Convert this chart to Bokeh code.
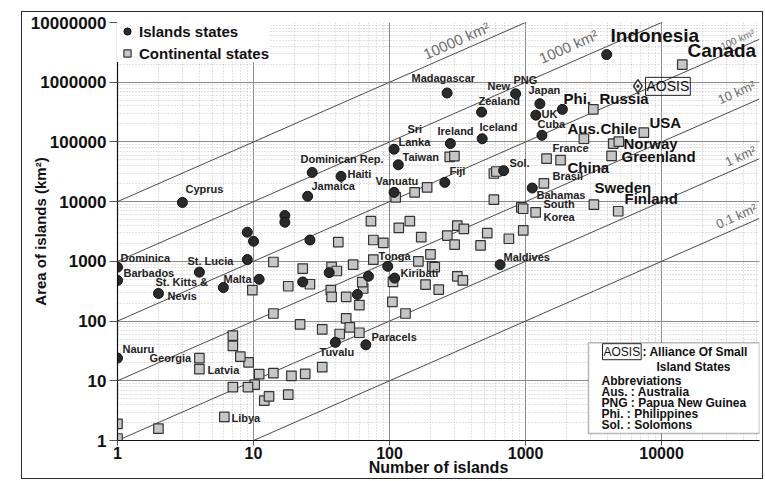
import math
from bokeh.plotting import figure
from bokeh.models import (Range1d, FixedTicker, CustomJSTickFormatter, Label,
                          BoxAnnotation, Legend, LegendItem, ColumnDataSource)
from bokeh.core.properties import value
from bokeh.embed import file_html
from bokeh.resources import INLINE

# ---------------- data ----------------
island_n = [3950, 265, 845, 475, 1275, 1190, 1865, 1320, 480, 280, 108, 116, 690, 255,
            108, 1120, 27, 44, 25, 3, 17, 17, 9, 10, 26, 9, 1, 1, 4, 2, 6, 11, 1, 97,
            109, 70, 36, 23, 58, 40, 67, 650]
island_area = [2900000, 660000, 640000, 316000, 436000, 281000, 351000, 129000, 113000,
               94000, 75500, 41400, 33000, 21000, 14300, 16900, 30800, 26500, 12300, 9700,
               5860, 4520, 3080, 2170, 2280, 1070, 800, 480, 660, 290, 364, 500, 24, 826,
               525, 563, 647, 452, 279, 44, 40, 880]

cont_n = [14200, 3150, 2685, 7410, 4415, 4850, 4290, 1427, 1808, 1364, 3180, 4800, 930,
          960, 1186, 277, 300, 585, 610, 585, 111, 153, 189, 73, 117, 141, 171, 266, 315,
          352, 301, 467, 523, 754, 962, 42, 76, 90, 14, 23, 37.5, 41, 54, 76, 163, 200,
          206, 215, 315, 346, 184, 230, 106, 105, 131, 18, 26, 9.8, 37, 37.5, 48, 64, 63,
          60, 14, 22, 32, 48, 51, 60, 43, 32, 24, 19, 14, 11, 18, 12, 13, 10.2, 9.1, 7.05,
          6.1, 9.2, 8, 7.05, 7.05, 4, 4, 1, 1, 2]
cont_area = [1970000, 351000, 113000, 143000, 93800, 101000, 58400, 52500, 49500, 20200,
             8900, 6900, 8040, 7600, 6630, 56200, 58000, 29600, 32000, 10800, 11800, 14300,
             17300, 4700, 3650, 4700, 2540, 2700, 3980, 3500, 1900, 1850, 2960, 2390, 3290,
             2100, 2280, 2045, 976, 756, 804, 690, 881, 1070, 1000, 1310, 826, 800, 562,
             482, 408, 337, 452, 210, 134, 383, 414, 329, 329, 254, 254, 351, 450, 185,
             134, 88, 72.7, 111, 78.5, 63.8, 60.7, 16.9, 13.1, 12.1, 13.4, 12.9, 5.85,
             4.64, 5.48, 8.6, 7.85, 7.85, 2.48, 20.4, 25.4, 56.9, 38.3, 23.9, 15.7, 1.9,
             1.08, 1.58]

aosis_n = [6700]
aosis_area = [860000]

line_areas = [10000, 1000, 100, 10, 1, 0.1]
line_labels = ["10000 km²", "1000 km²", "100 km²", "10 km²", "1 km²", "0.1 km²"]

y_ticks = [1, 10, 100, 1000, 10000, 100000, 1000000, 10000000]
x_ticks = [1, 10, 100, 1000, 10000]

# ---------------- layout helpers (annotation placement, image px -> data) ----------------
X_LOG_END = 4.72
FR_L, FR_B = 117, 441
PXD_X = 642 / X_LOG_END
PXD_Y = 419 / 7.0
def dx(px):
    return 10 ** ((px - FR_L) / PXD_X)
def dy(py):
    return 10 ** ((FR_B - py) / PXD_Y)

FONT = "Liberation Sans"

p = figure(width=740, height=466, x_axis_type="log", y_axis_type="log",
           x_range=Range1d(1, 10 ** X_LOG_END), y_range=Range1d(1, 1e7),
           output_backend="svg", toolbar_location=None,
           min_border_left=95, min_border_right=3, min_border_top=10, min_border_bottom=37)
p.margin = (12, 0, 0, 22)
p.styles = {"outline": "1.5px solid #2a2a2a"}
p.outline_line_color = None
p.background_fill_color = "white"
p.border_fill_color = "white"

minor_y = [m * 10 ** e for e in range(7) for m in range(2, 10)]
minor_x = [m * 10 ** e for e in range(5) for m in range(2, 10) if m * 10 ** e < 10 ** X_LOG_END]
p.yaxis.ticker = FixedTicker(ticks=y_ticks, minor_ticks=minor_y)
p.xaxis.ticker = FixedTicker(ticks=x_ticks, minor_ticks=minor_x)
p.xaxis.formatter = CustomJSTickFormatter(code="return tick.toFixed(0);")
p.yaxis.formatter = CustomJSTickFormatter(code="return tick.toFixed(0);")

for ax, fs in ((p.xaxis, "16px"), (p.yaxis, "17px")):
    ax.major_label_text_font = FONT
    ax.major_label_text_font_size = fs
    ax.major_label_text_font_style = "bold"
    ax.major_label_text_color = "#111"
    ax.axis_line_color = "#111"
    ax.axis_line_width = 1.2
    ax.major_tick_line_color = "#555"
    ax.major_tick_in = 0
    ax.minor_tick_in = 0
    ax.minor_tick_out = 0
    ax.axis_label_text_font = FONT
    ax.axis_label_text_font_style = "bold"
    ax.axis_label_text_color = "#111"
p.yaxis.major_tick_out = 8
p.yaxis.major_label_standoff = 3
p.xaxis.major_tick_out = 5
p.xaxis.major_label_standoff = 1
p.yaxis.axis_label = "Area of islands (km²)"
p.yaxis.axis_label_text_font_size = "15px"
p.yaxis.axis_label_standoff = -21
p.xaxis.axis_label = "Number of islands"
p.xaxis.axis_label_text_font_size = "16px"
p.xaxis.axis_label_standoff = -3

for g in (p.xgrid, p.ygrid):
    g.grid_line_color = "#8c8c8c"
    g.grid_line_width = 1
    g.minor_grid_line_color = "#c4c4c4"
    g.minor_grid_line_dash = "1 2"

# constant mean-island-size lines
xs_line = [1, 10 ** X_LOG_END]
for k in line_areas:
    p.line(xs_line, [k * v for v in xs_line], line_color="#4a4a4a", line_width=1)

ANG = math.atan(PXD_Y / PXD_X)
lab_pos = [(456, 40, "15px"), (568, 46, "15px"), (737, 39, "10px"),
           (736, 92, "13px"), (740, 156, "13px"), (736, 216, "13px")]
for txt, (lx, ly, fs) in zip(line_labels, lab_pos):
    p.text(x=[dx(lx)], y=[dy(ly)], text=[txt], angle=ANG, text_align="center",
           text_baseline="middle", text_font=value(FONT), text_font_size=fs,
           text_color="#6e6e6e")

# points
r_cont = p.scatter(cont_n, cont_area, marker="square", size=9.5, fill_color="#c6c6c6",
                   line_color="#333", line_width=1.2)
r_isl = p.scatter(island_n, island_area, marker="circle", size=10, fill_color="#2a2a2a",
                  line_color="#111", line_width=1)
p.scatter(aosis_n, aosis_area, marker="diamond_dot", size=13, fill_color="white",
          line_color="#333", line_width=1.6)

# country labels (left x, centre y in image px)
small_labels = [("Madagascar", 411, 78), ("PNG", 513, 80), ("New", 487, 86),
                ("Zealand", 478, 101), ("Japan", 528, 90), ("UK", 541, 114),
                ("Cuba", 537, 124), ("Iceland", 479, 127), ("Ireland", 437, 131),
                ("Sri", 407, 129), ("Lanka", 398, 142), ("Taiwan", 402, 157),
                ("Fiji", 449, 171), ("Vanuatu", 375, 181), ("Dominican Rep.", 300, 159),
                ("Haiti", 347, 174), ("Jamaica", 311, 186), ("Cyprus", 185, 189),
                ("Dominica", 120, 258), ("Barbados", 123, 273), ("St. Lucia", 187, 261),
                ("St. Kitts &", 155, 282), ("Nevis", 167, 296), ("Malta", 223, 279),
                ("Nauru", 122, 349), ("Georgia", 149, 358), ("Latvia", 207, 370),
                ("Libya", 231, 418), ("Tonga", 378, 256), ("Kiribati", 400, 273),
                ("Tuvalu", 319, 352), ("Paracels", 371, 337), ("Maldives", 503, 257),
                ("France", 552, 148), ("Brasil", 552, 176), ("Bahamas", 536, 195),
                ("South", 543, 204), ("Korea", 543, 217), ("Sol.", 509, 163)]
large_labels = [("Russia", 599, 98), ("Phi.", 563, 98), ("Aus.", 567, 128),
                ("Chile", 600, 128), ("USA", 649, 122), ("Norway", 623, 143),
                ("Greenland", 621, 156), ("China", 567, 167), ("Sweden", 594, 187),
                ("Finland", 624, 198)]
huge_labels = [("Indonesia", 610, 35), ("Canada", 687, 50)]

for group, fs, col in ((small_labels, "11px", "#222"), (large_labels, "15px", "#111"),
                       (huge_labels, "19px", "#111")):
    src = ColumnDataSource(dict(x=[dx(g[1]) for g in group], y=[dy(g[2]) for g in group],
                                t=[g[0] for g in group]))
    p.text(x="x", y="y", text="t", source=src, text_align="left", text_baseline="middle",
           text_font=value(FONT), text_font_size=fs, text_font_style="bold", text_color=col)

p.add_layout(Label(x=dx(645), y=dy(86), text="AOSIS", text_font=FONT, text_font_size="14px",
                   text_baseline="middle", text_align="left", text_color="#111",
                   border_line_color="#222", border_line_width=1, padding=1))

# legend
legend = Legend(items=[LegendItem(label="Islands states", renderers=[r_isl]),
                       LegendItem(label="Continental states", renderers=[r_cont])],
                location="top_left", margin=0, padding=2, spacing=4, glyph_width=20,
                glyph_height=18, label_height=18, label_standoff=2,
                label_text_font=FONT, label_text_font_size="15px",
                label_text_font_style="bold", label_text_color="#111",
                border_line_color=None, background_fill_color="white",
                background_fill_alpha=1)
p.add_layout(legend)

# info box
p.add_layout(BoxAnnotation(left=dx(588), right=dx(759), top=dy(343), bottom=dy(434),
                           fill_color="white", fill_alpha=1, line_color="#111",
                           line_width=1.5))
p.add_layout(Label(x=dx(602), y=dy(352), text="AOSIS", text_font=FONT,
                   text_font_size="12px", text_baseline="middle", text_align="left",
                   text_color="#111", border_line_color="#222", border_line_width=1,
                   padding=1))
box_lines = [(": Alliance Of Small", 642, 352, "left"), ("Island States", 693, 367, "center"),
             ("Abbreviations", 601, 381, "left"), ("Aus. : Australia", 601, 392, "left"),
             ("PNG : Papua New Guinea", 601, 403, "left"),
             ("Phi. : Philippines", 601, 414, "left"), ("Sol. : Solomons", 601, 425, "left")]
for txt, lx, ly, al in box_lines:
    p.add_layout(Label(x=dx(lx), y=dy(ly), text=txt, text_font=FONT, text_font_size="12px",
                       text_font_style="bold", text_baseline="middle", text_align=al,
                       text_color="#111"))

open("out.html", "w").write(file_html(p, INLINE))
